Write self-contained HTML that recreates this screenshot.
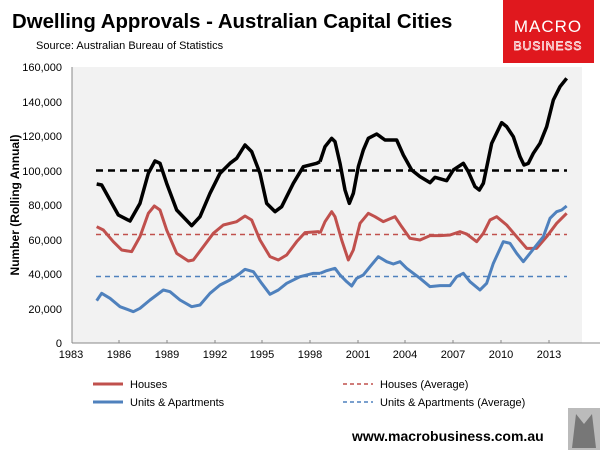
<!DOCTYPE html>
<html><head><style>
body{margin:0;width:614px;height:457px;background:#fff;overflow:hidden;font-family:"Liberation Sans",Arial,sans-serif;}
</style></head><body>
<svg width="614" height="457" xmlns="http://www.w3.org/2000/svg" font-family="Liberation Sans, Arial, sans-serif">
<text x="12" y="28" font-size="20.4" font-weight="bold" fill="#000">Dwelling Approvals - Australian Capital Cities</text>
<text x="36" y="49" font-size="11" fill="#000">Source: Australian Bureau of Statistics</text>
<rect x="503" y="0" width="91" height="63" fill="#e0181e"/>
<text x="548" y="32" font-size="17" fill="#fff" text-anchor="middle" letter-spacing="1">MACRO</text>
<text x="548" y="50" font-size="12" fill="none" stroke="#fff" stroke-width="0.7" text-anchor="middle" letter-spacing="1">BUSINESS</text>
<rect x="72" y="67" width="510" height="276" fill="#f2f2f2"/>
<line x1="72" y1="67" x2="72" y2="343" stroke="#888"/>
<line x1="72" y1="343" x2="600" y2="343" stroke="#888"/>
<g font-size="11" fill="#000" text-anchor="end">
<text x="62" y="71">160,000</text><text x="62" y="106">140,000</text><text x="62" y="140">120,000</text><text x="62" y="175">100,000</text><text x="62" y="209">80,000</text><text x="62" y="244">60,000</text><text x="62" y="278">40,000</text><text x="62" y="313">20,000</text><text x="62" y="347">0</text>
</g>
<g stroke="#888"><line x1="119" y1="340" x2="119" y2="343"/><line x1="167" y1="340" x2="167" y2="343"/><line x1="215" y1="340" x2="215" y2="343"/><line x1="262" y1="340" x2="262" y2="343"/><line x1="310" y1="340" x2="310" y2="343"/><line x1="358" y1="340" x2="358" y2="343"/><line x1="405" y1="340" x2="405" y2="343"/><line x1="453" y1="340" x2="453" y2="343"/><line x1="501" y1="340" x2="501" y2="343"/><line x1="549" y1="340" x2="549" y2="343"/></g>
<g font-size="11" fill="#000" text-anchor="middle">
<text x="71" y="358">1983</text><text x="119" y="358">1986</text><text x="167" y="358">1989</text><text x="215" y="358">1992</text><text x="262" y="358">1995</text><text x="310" y="358">1998</text><text x="358" y="358">2001</text><text x="405" y="358">2004</text><text x="453" y="358">2007</text><text x="501" y="358">2010</text><text x="549" y="358">2013</text>
</g>
<text transform="translate(19,205) rotate(-90)" font-size="12" font-weight="bold" text-anchor="middle">Number (Rolling Annual)</text>
<g stroke-dasharray="7,5" stroke-width="2.5">
<line x1="96" y1="170.5" x2="567" y2="170.5" stroke="#000"/>
<line x1="96" y1="234.5" x2="567" y2="234.5" stroke="#c0504d" stroke-width="1.6" stroke-dasharray="5,4"/>
<line x1="96" y1="276.5" x2="567" y2="276.5" stroke="#4f81bd" stroke-width="1.6" stroke-dasharray="5,4"/>
</g>
<g fill="none" stroke-width="3" stroke-linejoin="round">
<polyline transform="translate(60,60) scale(0.33333)" vector-effect="non-scaling-stroke" stroke-width="3.5" stroke="#000" points="110,372 125,375 150,420 175,465 210,483 240,430 265,340 285,303 300,310 320,370 350,450 395,497 420,470 450,400 480,340 510,310 530,295 555,255 575,275 600,340 620,430 645,455 665,440 700,370 730,320 770,310 780,305"/>
<polyline transform="translate(320,60) scale(0.33333)" vector-effect="non-scaling-stroke" stroke-width="3.5" stroke="#000" points="0,305 15,260 35,235 45,245 60,310 75,390 88,430 100,400 115,320 130,270 145,235 170,222 195,240 230,240 250,285 275,330 300,350 330,368 345,352 380,362 400,330 430,310 445,335 465,380 478,390 490,370 515,250 545,188 560,200 580,230 600,290 612,315 625,310 640,280 660,250 680,200 700,120 720,80 740,55"/>
<g transform="translate(60,60) scale(0.33333)">
<polyline vector-effect="non-scaling-stroke" stroke="#c0504d" points="110,500 130,510 160,545 185,570 215,575 240,530 265,460 283,438 300,450 320,510 350,580 385,603 400,600 430,560 460,520 490,495 530,485 555,468 575,480 600,540 630,590 655,600 680,585 710,545 735,518 775,515 780,520"/>
<polyline vector-effect="non-scaling-stroke" stroke="#4f81bd" points="110,722 125,700 150,715 180,740 220,755 240,745 270,720 310,690 330,695 360,720 395,740 420,735 450,700 480,675 510,660 540,640 555,628 580,635 605,670 630,703 655,690 680,670 720,650 760,640 780,640"/>
</g>
<g transform="translate(320,60) scale(0.33333)">
<polyline vector-effect="non-scaling-stroke" stroke="#c0504d" points="0,520 15,485 35,455 45,470 65,540 85,600 100,570 120,490 145,460 165,470 190,485 225,470 245,500 270,535 300,540 330,527 360,527 390,525 420,515 440,522 470,545 490,520 510,480 530,470 560,495 590,530 620,565 650,565 680,530 710,490 740,460"/>
<polyline vector-effect="non-scaling-stroke" stroke="#4f81bd" points="0,640 20,632 45,625 60,645 80,665 95,678 110,655 130,645 150,620 175,590 200,605 220,612 240,605 260,625 300,655 330,680 360,677 390,677 410,650 430,640 450,665 480,690 500,670 520,610 550,545 570,550 590,580 610,605 630,580 650,555 670,530 690,475 710,455 725,450 740,438"/>
</g>
</g>
<line x1="93" y1="384" x2="123" y2="384" stroke="#c0504d" stroke-width="3"/>
<text x="130" y="388" font-size="11">Houses</text>
<line x1="93" y1="402" x2="123" y2="402" stroke="#4f81bd" stroke-width="3"/>
<text x="130" y="406" font-size="11">Units &amp; Apartments</text>
<line x1="343" y1="384" x2="373" y2="384" stroke="#c0504d" stroke-width="1.5" stroke-dasharray="4,3"/>
<text x="380" y="388" font-size="11">Houses (Average)</text>
<line x1="343" y1="402" x2="373" y2="402" stroke="#4f81bd" stroke-width="1.5" stroke-dasharray="4,3"/>
<text x="380" y="406" font-size="11">Units &amp; Apartments (Average)</text>
<text x="352" y="441" font-size="14" font-weight="bold">www.macrobusiness.com.au</text>
<rect x="568" y="408" width="32" height="42" fill="#bbb"/>
<path d="M572,448 L576,414 L584,424 L592,414 L596,448 Z" fill="#777"/>
</svg>
</body></html>
